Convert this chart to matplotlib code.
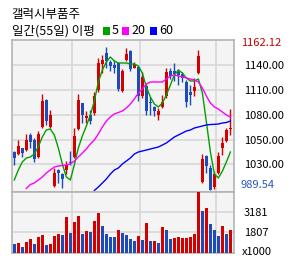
import numpy as np
import matplotlib
matplotlib.use('Agg')
import matplotlib.pyplot as plt
from matplotlib import font_manager
from matplotlib.patches import Rectangle

# daily candles (55 days), price in won
opens = [1036.0, 1033.6, 1040.0, 1038.0, 1056.0, 1050.0, 1029.2, 1066.0, 1098.0, 1066.0,
         995.2, 1014.0, 1009.2, 1014.0, 1024.0, 1030.0, 1063.2, 1094.0, 1076.0, 1080.0,
         1082.0, 1110.0, 1140.8, 1154.0, 1143.6, 1140.0, 1142.4, 1109.4, 1146.0, 1156.8,
         1137.0, 1138.0, 1102.8, 1115.4, 1096.0, 1090.0, 1080.0, 1090.0, 1103.0, 1133.4,
         1132.8, 1131.6, 1129.2, 1120.0, 1108.0, 1109.4, 1130.0, 1000.0, 1031.0, 1016.4,
         994.0, 1010.0, 1040.0, 1048.8, 1063.2]
highs = [1036.5, 1050.0, 1041.0, 1057.2, 1058.0, 1052.0, 1060.8, 1105.2, 1099.0, 1086.0,
         1016.0, 1015.0, 1010.0, 1024.8, 1036.8, 1064.8, 1105.2, 1095.0, 1084.8, 1086.0,
         1108.0, 1148.0, 1152.0, 1162.12, 1146.0, 1146.0, 1144.0, 1135.0, 1160.8, 1158.0,
         1144.0, 1139.0, 1131.6, 1117.0, 1102.0, 1091.0, 1088.4, 1104.0, 1136.0, 1136.0,
         1142.0, 1135.0, 1132.0, 1122.0, 1116.0, 1124.4, 1158.0, 1033.2, 1032.0, 1020.0,
         1012.0, 1036.0, 1054.0, 1064.0, 1087.2]
lows = [1020.0, 1032.0, 1030.0, 1037.0, 1040.0, 1024.0, 1028.0, 1065.0, 1068.0, 1065.0,
        994.0, 998.0, 992.8, 1009.0, 1020.0, 1029.0, 1062.0, 1070.0, 1070.0, 1068.8,
        1080.0, 1108.0, 1130.0, 1136.0, 1132.8, 1130.8, 1109.0, 1108.0, 1145.0, 1133.2,
        1136.0, 1096.8, 1101.0, 1080.0, 1080.0, 1079.4, 1074.0, 1088.0, 1101.0, 1123.0,
        1121.0, 1116.0, 1120.0, 1090.0, 1092.0, 1103.0, 1129.0, 998.0, 1010.0, 989.54,
        991.0, 1009.0, 1032.0, 1048.0, 1056.0]
closes = [1028.8, 1042.8, 1034.8, 1050.0, 1048.0, 1027.2, 1057.2, 1097.2, 1072.8, 1080.0,
          1010.8, 1010.0, 1003.2, 1020.0, 1022.0, 1054.8, 1098.0, 1080.0, 1078.8, 1072.8,
          1102.8, 1142.0, 1146.0, 1144.8, 1138.8, 1136.0, 1111.2, 1132.8, 1153.2, 1134.8,
          1141.0, 1103.0, 1126.0, 1085.4, 1094.0, 1085.0, 1084.8, 1096.0, 1132.0, 1126.8,
          1129.2, 1128.0, 1124.4, 1096.0, 1104.4, 1114.0, 1150.4, 1027.2, 1019.0, 990.0,
          1008.8, 1030.8, 1046.0, 1062.0, 1064.8]

# volume in thousands, and whether the bar is drawn as an up day
volume = [936, 1007, 724, 1078, 1290, 936, 1432, 1573, 865, 936,
          1503, 1644, 1573, 2848, 1715, 2494, 2919, 1644, 1857, 1786,
          2565, 3131, 2211, 1644, 1432, 1432, 1927, 1715, 1573, 1290,
          1149, 1503, 1219, 2423, 1149, 1149, 1007, 2140, 1927, 1290,
          1361, 1432, 1361, 1361, 1432, 1644, 4597, 3273, 3485, 2352,
          1927, 1503, 2211, 1644, 1927]
vol_up = [0, 1, 0, 1, 1, 0, 1, 1, 0, 1,
          1, 1, 0, 1, 0, 1, 1, 0, 1, 0,
          1, 1, 0, 0, 0, 0, 1, 0, 0, 0,
          0, 1, 0, 1, 0, 1, 0, 1, 0, 0,
          1, 1, 1, 1, 1, 1, 1, 0, 1, 0,
          0, 0, 1, 0, 1]

# moving averages as drawn (visible part only)
ma5 = [1002, 1014, 1023.6, 1028.4, 1029.6, 1033.2, 1042, 1053.6, 1062, 1063.2,
       1056, 1040.4, 1021.2, 1005.6, 1002, 1020, 1040.4, 1054.8, 1066.8, 1080,
       1096.8, 1119.6, 1134, 1143.6, 1149.6, 1144.8, 1142.4, 1142.4, 1142.4, 1141.2,
       1141.2, 1138.8, 1130.4, 1113.6, 1101.6, 1093.2, 1089.6, 1094.4, 1104, 1116,
       1128, 1134, 1130.4, 1124.4, 1120.8, 1120.8, 1123.2, 1106.4, 1071.6, 1035.6,
       1009.2, 1004.4, 1012.8, 1023.6, 1035.6]
ma20_start = 3
ma20 = [991.8, 996.6, 998.4, 1002, 1005.6, 1010.4, 1014, 1017.6, 1018.8, 1019.4,
        1020, 1021.2, 1024.8, 1029.6, 1034.4, 1039.2, 1045.2, 1050, 1057.2, 1065.6,
        1072.8, 1077.6, 1081.2, 1083, 1084.8, 1088.4, 1093.2, 1099.2, 1106.4, 1111.2,
        1117.2, 1119.6, 1119.6, 1119.6, 1119.6, 1123.2, 1126.8, 1128, 1126.8, 1125.6,
        1124.4, 1123.2, 1122, 1119.6, 1112.4, 1102.8, 1094.4, 1089.6, 1087.2, 1083.6,
        1080, 1077.6]
ma60_start = 20
ma60 = [989.4, 993.6, 998.4, 1003.2, 1009.2, 1014, 1016.4, 1021.2, 1024.8, 1028.4,
        1033.2, 1035.6, 1036.8, 1038, 1039.2, 1040.4, 1041.6, 1044, 1046.4, 1050,
        1053.6, 1056, 1058.4, 1060.8, 1062, 1064.4, 1065.6, 1066.8, 1068, 1068.6,
        1068.8, 1069.2, 1070.4, 1071, 1072.8]

price_ticks = [1140, 1110, 1080, 1050, 1021.2]
price_labels = ['1140.00', '1110.00', '1080.00', '1050.00', '1030.00']
vol_ticks = [3181, 1807]
month_breaks = [14.5, 31.5, 50.5]

RED = '#d40000'
BLUE = '#1c4cb8'

names = {f.name for f in font_manager.fontManager.ttflist}
num_font = 'Liberation Sans Narrow' if 'Liberation Sans Narrow' in names else 'Noto Sans CJK KR'
num_size = 9.5 if num_font == 'Liberation Sans Narrow' else 8
kr_font = ['Noto Sans CJK KR', 'DejaVu Sans']

W, H = 292, 260
fig = plt.figure(figsize=(W / 100, H / 100), dpi=100)
fig.patch.set_facecolor('white')

def fx(px):
    return px / W

def fy(py):
    return 1 - py / H

L, R = 11.7, 234
ax = fig.add_axes([fx(L), fy(192), (R - L) / W, (192 - 40) / H])
axv = fig.add_axes([fx(L), fy(253), (R - L) / W, (253 - 192) / H])

x = np.arange(len(opens))
o = np.array(opens)
c = np.array(closes)
up = c >= o
cols = np.where(up, RED, BLUE)

# candles
ax.vlines(x, lows, highs, colors=cols, lw=1, zorder=3)
ax.bar(x, np.maximum(np.abs(c - o), 0.8), bottom=np.minimum(o, c), width=0.72,
       color=cols, lw=0, zorder=4)

# moving averages
ax.plot(x, ma5, color='#00a000', lw=1, zorder=5)
ax.plot(np.arange(ma20_start, ma20_start + len(ma20)), ma20, color='#ff00ff', lw=1, zorder=5)
ax.plot(np.arange(ma60_start, ma60_start + len(ma60)), ma60, color='#0000ff', lw=1, zorder=5)

# volume
vcols = [RED if u else BLUE for u in vol_up]
axv.bar(x, volume, width=0.72, color=vcols, lw=0, zorder=3)

for a in (ax, axv):
    a.set_facecolor('#f4f4f4')
    a.set_xlim(-0.65, 54.9)
    a.set_xticks([])
    for b in month_breaks:
        a.axvline(b, color='#d8d8d8', lw=1.2, zorder=1)
    for s in a.spines.values():
        s.set_color('#b4b4b4')
        s.set_linewidth(1.2)
    a.yaxis.tick_right()
    a.tick_params(axis='y', length=0, pad=7, labelsize=num_size)
    a.grid(axis='y', color='#d8d8d8', lw=1.2, zorder=1)
    a.set_axisbelow(True)
    for t in a.get_yticklabels():
        t.set_fontfamily(num_font)

ax.set_ylim(987.6, 1170)
ax.set_yticks(price_ticks)
ax.set_yticklabels(price_labels, fontfamily=num_font, fontsize=num_size)

axv.set_ylim(299, 4618)
axv.set_yticks(vol_ticks)
axv.set_yticklabels([str(v) for v in vol_ticks], fontfamily=num_font, fontsize=num_size)

# max / min of the window
fig.text(fx(241), fy(42.7), '%.2f' % max(highs), color='#c00000',
         fontfamily=num_font, fontsize=num_size, va='center')
fig.text(fx(240.5), fy(185.5), '%.2f' % min(lows), color='#2a58b8',
         fontfamily=num_font, fontsize=num_size, va='center')
fig.text(fx(241.5), fy(252), 'x1000', color='black',
         fontfamily=num_font, fontsize=num_size, va='center')

# header
fig.text(fx(11.7), fy(14.5), '갤럭시부품주', family=kr_font, fontsize=9, va='center')
fig.text(fx(11.7), fy(31), '일간(55일) 이평', family=kr_font, fontsize=9, va='center')
for sx, lab, col in [(102.7, '5', '#00a000'), (121.7, '20', '#ff00ff'), (149.5, '60', '#0000ff')]:
    fig.patches.append(Rectangle((fx(sx), fy(34.5)), 7.5 / W, 7.5 / H,
                                 transform=fig.transFigure, color=col, lw=0))
    fig.text(fx(sx + 9.3), fy(31), lab, family=kr_font, fontsize=9, va='center')

fig.savefig('out.png', dpi=100, facecolor='white')
